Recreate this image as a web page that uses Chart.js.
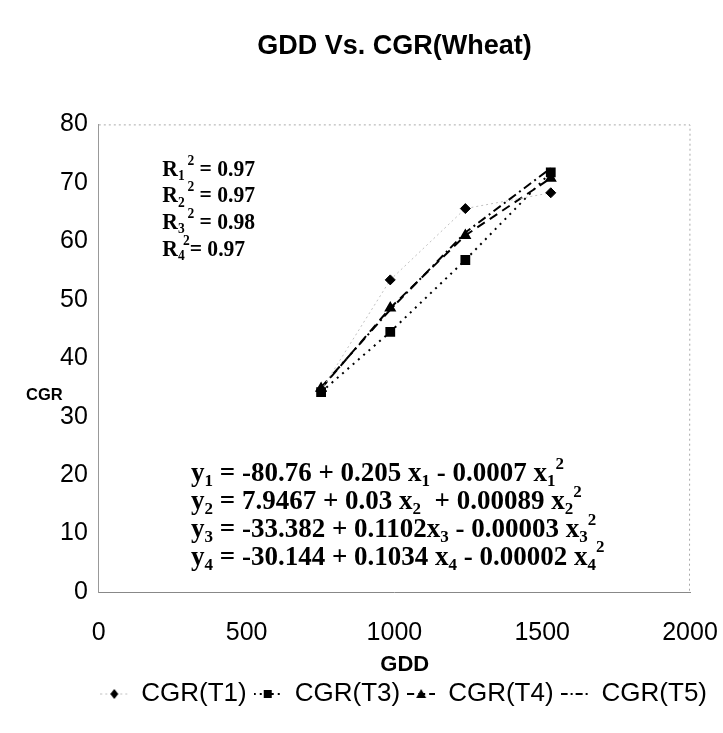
<!DOCTYPE html>
<html>
<head>
<meta charset="utf-8">
<script src="https://cdn.jsdelivr.net/npm/chart.js@4/dist/chart.umd.min.js"></script>
<style>
  html, body { margin: 0; padding: 0; background: #fff; }
  #wrap { width: 723px; height: 733px; }
</style>
</head>
<body>
<div id="wrap"><canvas id="gddChart"></canvas></div>
<script>
// values
const gdd = [752, 986, 1240, 1529];
const cgrT1 = [34.5, 53.4, 65.6, 68.3];
const cgrT3 = [34.2, 44.5, 56.8, 71.8];
const cgrT4 = [34.8, 48.6, 61.0, 70.8];
const cgrT5 = [35.0, 48.3, 61.5, 72.5];
const seriesNames = ['CGR(T1)', 'CGR(T3)', 'CGR(T4)', 'CGR(T5)'];

const xMin = 0, xMax = 2000, xStep = 500;
const yMin = 0, yMax = 80, yStep = 10;

// text boxes pasted on the chart (R squared + fitted equations)
const rSquared = ['0.97', '0.97', '0.98', '0.97'];
const eqParts = [
  ['-80.76 + 0.205 ', ' - 0.0007 '],
  ['7.9467 + 0.03 ', '  + 0.00089 '],
  ['-33.382 + 0.1102', ' - 0.00003 '],
  ['-30.144 + 0.1034 ', ' - 0.00002 ']
];

const SANS = "'Liberation Sans', Arial, sans-serif";
const SERIF = "'Liberation Serif', 'Times New Roman', serif";

const toPts = (ys) => gdd.map((x, i) => ({x: x, y: ys[i]}));

// little legend samples: line piece with the marker in the middle
function legendSample(dash, color, width, marker) {
  const c = document.createElement('canvas');
  c.width = 28; c.height = 14;
  const g = c.getContext('2d');
  g.strokeStyle = color;
  g.lineWidth = width;
  g.setLineDash(dash);
  g.beginPath(); g.moveTo(0, 7); g.lineTo(28, 7); g.stroke();
  g.setLineDash([]);
  g.fillStyle = '#000';
  if (marker === 'diamond') {
    g.beginPath(); g.moveTo(14, 2); g.lineTo(18, 7); g.lineTo(14, 12); g.lineTo(10, 7); g.closePath(); g.fill();
  } else if (marker === 'square') {
    g.fillRect(10, 3, 8, 8);
  } else if (marker === 'triangle') {
    g.beginPath(); g.moveTo(14, 2); g.lineTo(19, 11); g.lineTo(9, 11); g.closePath(); g.fill();
  }
  return c;
}
const samples = [
  legendSample([2, 3], '#c0c0c0', 1, 'diamond'),
  legendSample([2, 4], '#000', 2, 'square'),
  legendSample([7, 4], '#000', 2, 'triangle'),
  legendSample([7, 3, 2, 3], '#000', 2, null)
];

// draws a run of text pieces, some as subscript / superscript;
// sx squeezes the run horizontally like the scanned text boxes
function drawRun(g, x, y, parts, size, sx) {
  g.save();
  g.translate(x, y);
  g.scale(sx, 1);
  let cx = 0;
  parts.forEach(p => {
    const s = p.sub || p.sup ? Math.round(size * 0.62) : size;
    g.font = 'bold ' + s + 'px ' + SERIF;
    let dy = 0;
    if (p.sub) dy = size * 0.28;
    if (p.sup) dy = -size * 0.36;
    if (p.back) cx -= p.back;
    g.fillText(p.t, cx, dy);
    cx += g.measureText(p.t).width;
  });
  g.restore();
}

const annotations = {
  id: 'annotations',
  afterDraw(chart) {
    const g = chart.ctx;
    const a = chart.chartArea;
    const xs = chart.scales.x, ys = chart.scales.y;
    g.save();
    // plot frame (top / right), faint dotted like the scan
    g.strokeStyle = '#aaa';
    g.lineWidth = 1;
    g.setLineDash([2, 3]);
    g.beginPath();
    g.moveTo(a.left, a.top + 0.5); g.lineTo(a.right, a.top + 0.5);
    g.lineTo(a.right - 0.5, a.bottom);
    g.stroke();
    g.setLineDash([]);

    g.fillStyle = '#000';
    g.textBaseline = 'middle';
    // y title, written horizontally at the left
    g.textAlign = 'left';
    g.font = 'bold 16.5px ' + SANS;
    g.fillText('CGR', 26, ys.getPixelForValue(33.7));
    // x title under the tick labels
    g.textAlign = 'center';
    g.font = 'bold 22px ' + SANS;
    g.fillText('GDD', xs.getPixelForValue(1035), a.bottom + 73);

    g.textAlign = 'left';
    // R squared block
    const rx = xs.getPixelForValue(215);
    const ry = ys.getPixelForValue(72.3);
    rSquared.forEach((r, i) => {
      drawRun(g, rx, ry + i * 26.7, [
        {t: 'R'}, {t: String(i + 1), sub: true}, {t: '2', sup: true, back: i === 3 ? 2 : -3}, {t: (i === 3 ? '= ' : ' = ') + r}
      ], 24, 0.9);
    });
    // equations block
    const ex = xs.getPixelForValue(312);
    const ey = ys.getPixelForValue(20.1);
    eqParts.forEach((e, i) => {
      const n = String(i + 1);
      drawRun(g, ex, ey + i * 27.7, [
        {t: 'y'}, {t: n, sub: true}, {t: ' = ' + e[0]}, {t: 'x'}, {t: n, sub: true},
        {t: e[1]}, {t: 'x'}, {t: n, sub: true}, {t: '2', sup: true}
      ], 27, 1.0);
    });
    g.restore();
  }
};

const ctx = document.getElementById('gddChart').getContext('2d');
const gddChart = new Chart(ctx, {
  type: 'scatter',
  data: {
    datasets: [{
      label: seriesNames[0],
      data: toPts(cgrT1),
      showLine: true,
      borderColor: '#c0c0c0',
      borderWidth: 1,
      borderDash: [2, 3],
      pointStyle: 'rectRot',
      pointRadius: 5,
      pointBackgroundColor: '#000',
      pointBorderColor: '#000'
    }, {
      label: seriesNames[1],
      data: toPts(cgrT3),
      showLine: true,
      borderColor: '#000',
      borderWidth: 2,
      borderDash: [2, 5],
      pointStyle: 'rect',
      pointRadius: 5.5,
      pointBackgroundColor: '#000',
      pointBorderColor: '#000'
    }, {
      label: seriesNames[2],
      data: toPts(cgrT4),
      showLine: true,
      borderColor: '#000',
      borderWidth: 2,
      borderDash: [9, 6],
      pointStyle: 'triangle',
      pointRadius: 5,
      pointBackgroundColor: '#000',
      pointBorderColor: '#000'
    }, {
      label: seriesNames[3],
      data: toPts(cgrT5),
      showLine: true,
      borderColor: '#000',
      borderWidth: 2,
      borderDash: [9, 4, 2, 4],
      pointRadius: 0
    }]
  },
  options: {
    responsive: true,
    maintainAspectRatio: false,
    animation: false,
    layout: { padding: { left: 49, right: 9, bottom: 16 } },
    plugins: {
      title: {
        display: true,
        fullSize: false,
        text: 'GDD Vs. CGR(Wheat)',
        color: '#000',
        font: { family: SANS, size: 27, weight: 'bold' },
        padding: { top: 30, bottom: 62 }
      },
      legend: {
        position: 'bottom',
        align: 'end',
        labels: {
          color: '#000',
          font: { family: SANS, size: 26 },
          usePointStyle: true,
          pointStyleWidth: 28,
          padding: 7,
          generateLabels(chart) {
            const items = Chart.defaults.plugins.legend.labels.generateLabels(chart);
            items.forEach((it, i) => { it.pointStyle = samples[i]; });
            return items;
          }
        }
      },
      tooltip: { enabled: false }
    },
    elements: { line: { tension: 0 } },
    scales: {
      x: {
        type: 'linear',
        min: xMin,
        max: xMax,
        grid: { display: false, drawTicks: false },
        border: { display: true, color: '#888', width: 1 },
        ticks: {
          stepSize: xStep,
          color: '#000',
          padding: 26,
          font: { family: SANS, size: 25 },
          callback: (v) => String(v)
        },
        // the scan lets the last label run up to the page edge
        afterFit: (scale) => { scale.paddingRight = 33; }
      },
      y: {
        min: yMin,
        max: yMax,
        grid: { display: false, drawTicks: false },
        border: { display: true, color: '#999', width: 1, dash: [2, 2] },
        ticks: {
          stepSize: yStep,
          color: '#000',
          padding: 11,
          font: { family: SANS, size: 25 },
          callback: (v) => String(v)
        }
      }
    }
  },
  plugins: [annotations]
});
</script>
</body>
</html>
